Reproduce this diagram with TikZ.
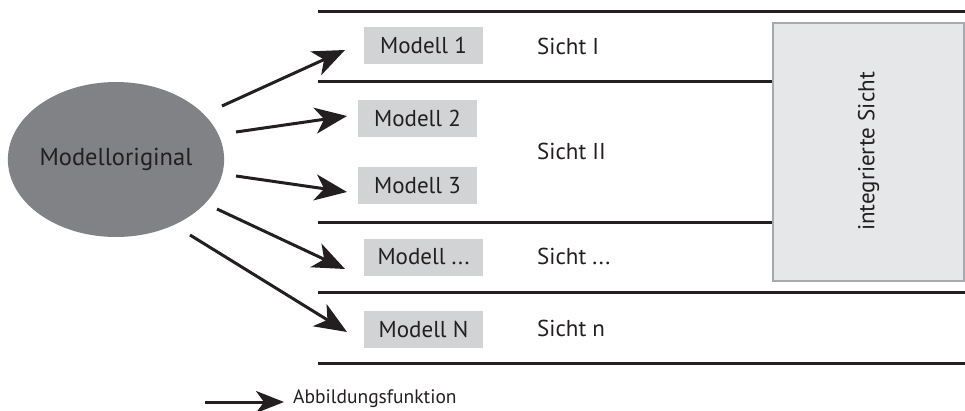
\documentclass[tikz,border=0pt]{standalone}
\usepackage{fontspec}
\setmainfont{PT Sans}
\usetikzlibrary{arrows.meta,shapes.geometric}
\definecolor{ink}{HTML}{231F20}
\definecolor{ellgray}{HTML}{808285}
\definecolor{boxgray}{HTML}{D1D3D4}
\definecolor{intfill}{HTML}{E6E7E8}
\definecolor{intline}{HTML}{A7A9AC}
\tikzset{
  mbox/.style={fill=boxgray, minimum width=119pt, minimum height=37pt, inner sep=0pt, font=\fontsize{23}{27}\selectfont, text=ink},
  sicht/.style={anchor=west, inner sep=0pt, font=\fontsize{23}{27}\selectfont, text=ink},
  sep/.style={draw=ink, line width=3pt},
  abb/.style={draw=ink, line width=3pt, -{Stealth[length=32pt, width=26pt, inset=9pt]}},
}
\begin{document}
\begin{tikzpicture}[x=1pt, y=-1pt]
\useasboundingbox (0,0) rectangle (965,410);
% integrated view box
\node[draw=intline, fill=intfill, line width=2pt, minimum width=191pt, minimum height=258pt, inner sep=0pt] (int) at (868.5,151.5) {};
\node[rotate=90, font=\fontsize{23}{27}\selectfont, text=ink] (intlbl) at (int.center) {integrierte Sicht};
% separator lines
\coordinate (l0a) at (318,11);  \coordinate (l0b) at (965,11);
\coordinate (l1a) at (318,81);  \coordinate (l1b) at (int.west |- 0,81);
\coordinate (l2a) at (318,222); \coordinate (l2b) at (int.west |- 0,222);
\coordinate (l3a) at (318,292); \coordinate (l3b) at (965,292);
\coordinate (l4a) at (318,363); \coordinate (l4b) at (965,363);
\draw[sep] (l0a) -- (l0b);
\draw[sep] (l1a) -- (l1b);
\draw[sep] (l2a) -- (l2b);
\draw[sep] (l3a) -- (l3b);
\draw[sep] (l4a) -- (l4b);
% original
\node[ellipse, fill=ellgray, minimum width=216pt, minimum height=155pt, inner sep=0pt, font=\fontsize{24.5}{28}\selectfont, text=ink] (orig) at (116,159.5) {Modelloriginal};
% models
\node[mbox] (m1) at (423.5,45.5) {Modell 1};
\node[mbox] (m2) at (417.5,118) {Modell 2};
\node[mbox] (m3) at (417.5,185.5) {Modell 3};
\node[mbox] (m4) at (423.5,257) {Modell ...};
\node[mbox] (m5) at (423.5,329) {Modell N};
% views
\node[sicht] (s1) at (537,46) {Sicht I};
\node[sicht] (s2) at (537,151) {Sicht II};
\node[sicht] (s3) at (537,256) {Sicht ...};
\node[sicht] (s4) at (537,328) {Sicht n};
% arrows
\coordinate (a1s) at (222,106); \coordinate (a1e) at (345,50);
\coordinate (a2s) at (236,132); \coordinate (a2e) at (347,116);
\coordinate (a3s) at (236,176); \coordinate (a3e) at (347,192);
\coordinate (a4s) at (217,209); \coordinate (a4e) at (345,269);
\coordinate (a5s) at (190,235); \coordinate (a5e) at (347,332);
\draw[abb] (a1s) -- (a1e);
\draw[abb] (a2s) -- (a2e);
\draw[abb] (a3s) -- (a3e);
\draw[abb] (a4s) -- (a4e);
\draw[abb] (a5s) -- (a5e);
% legend
\coordinate (lgs) at (205,402);
\coordinate (lge) at (284,402);
\node[anchor=west, inner sep=0pt, font=\fontsize{19.5}{23}\selectfont, text=ink] (lgt) at (293,399) {Abbildungsfunktion};
\draw[abb, -{Stealth[length=28pt, width=22pt, inset=8pt]}] (lgs) -- (lge);
\end{tikzpicture}
\end{document}
